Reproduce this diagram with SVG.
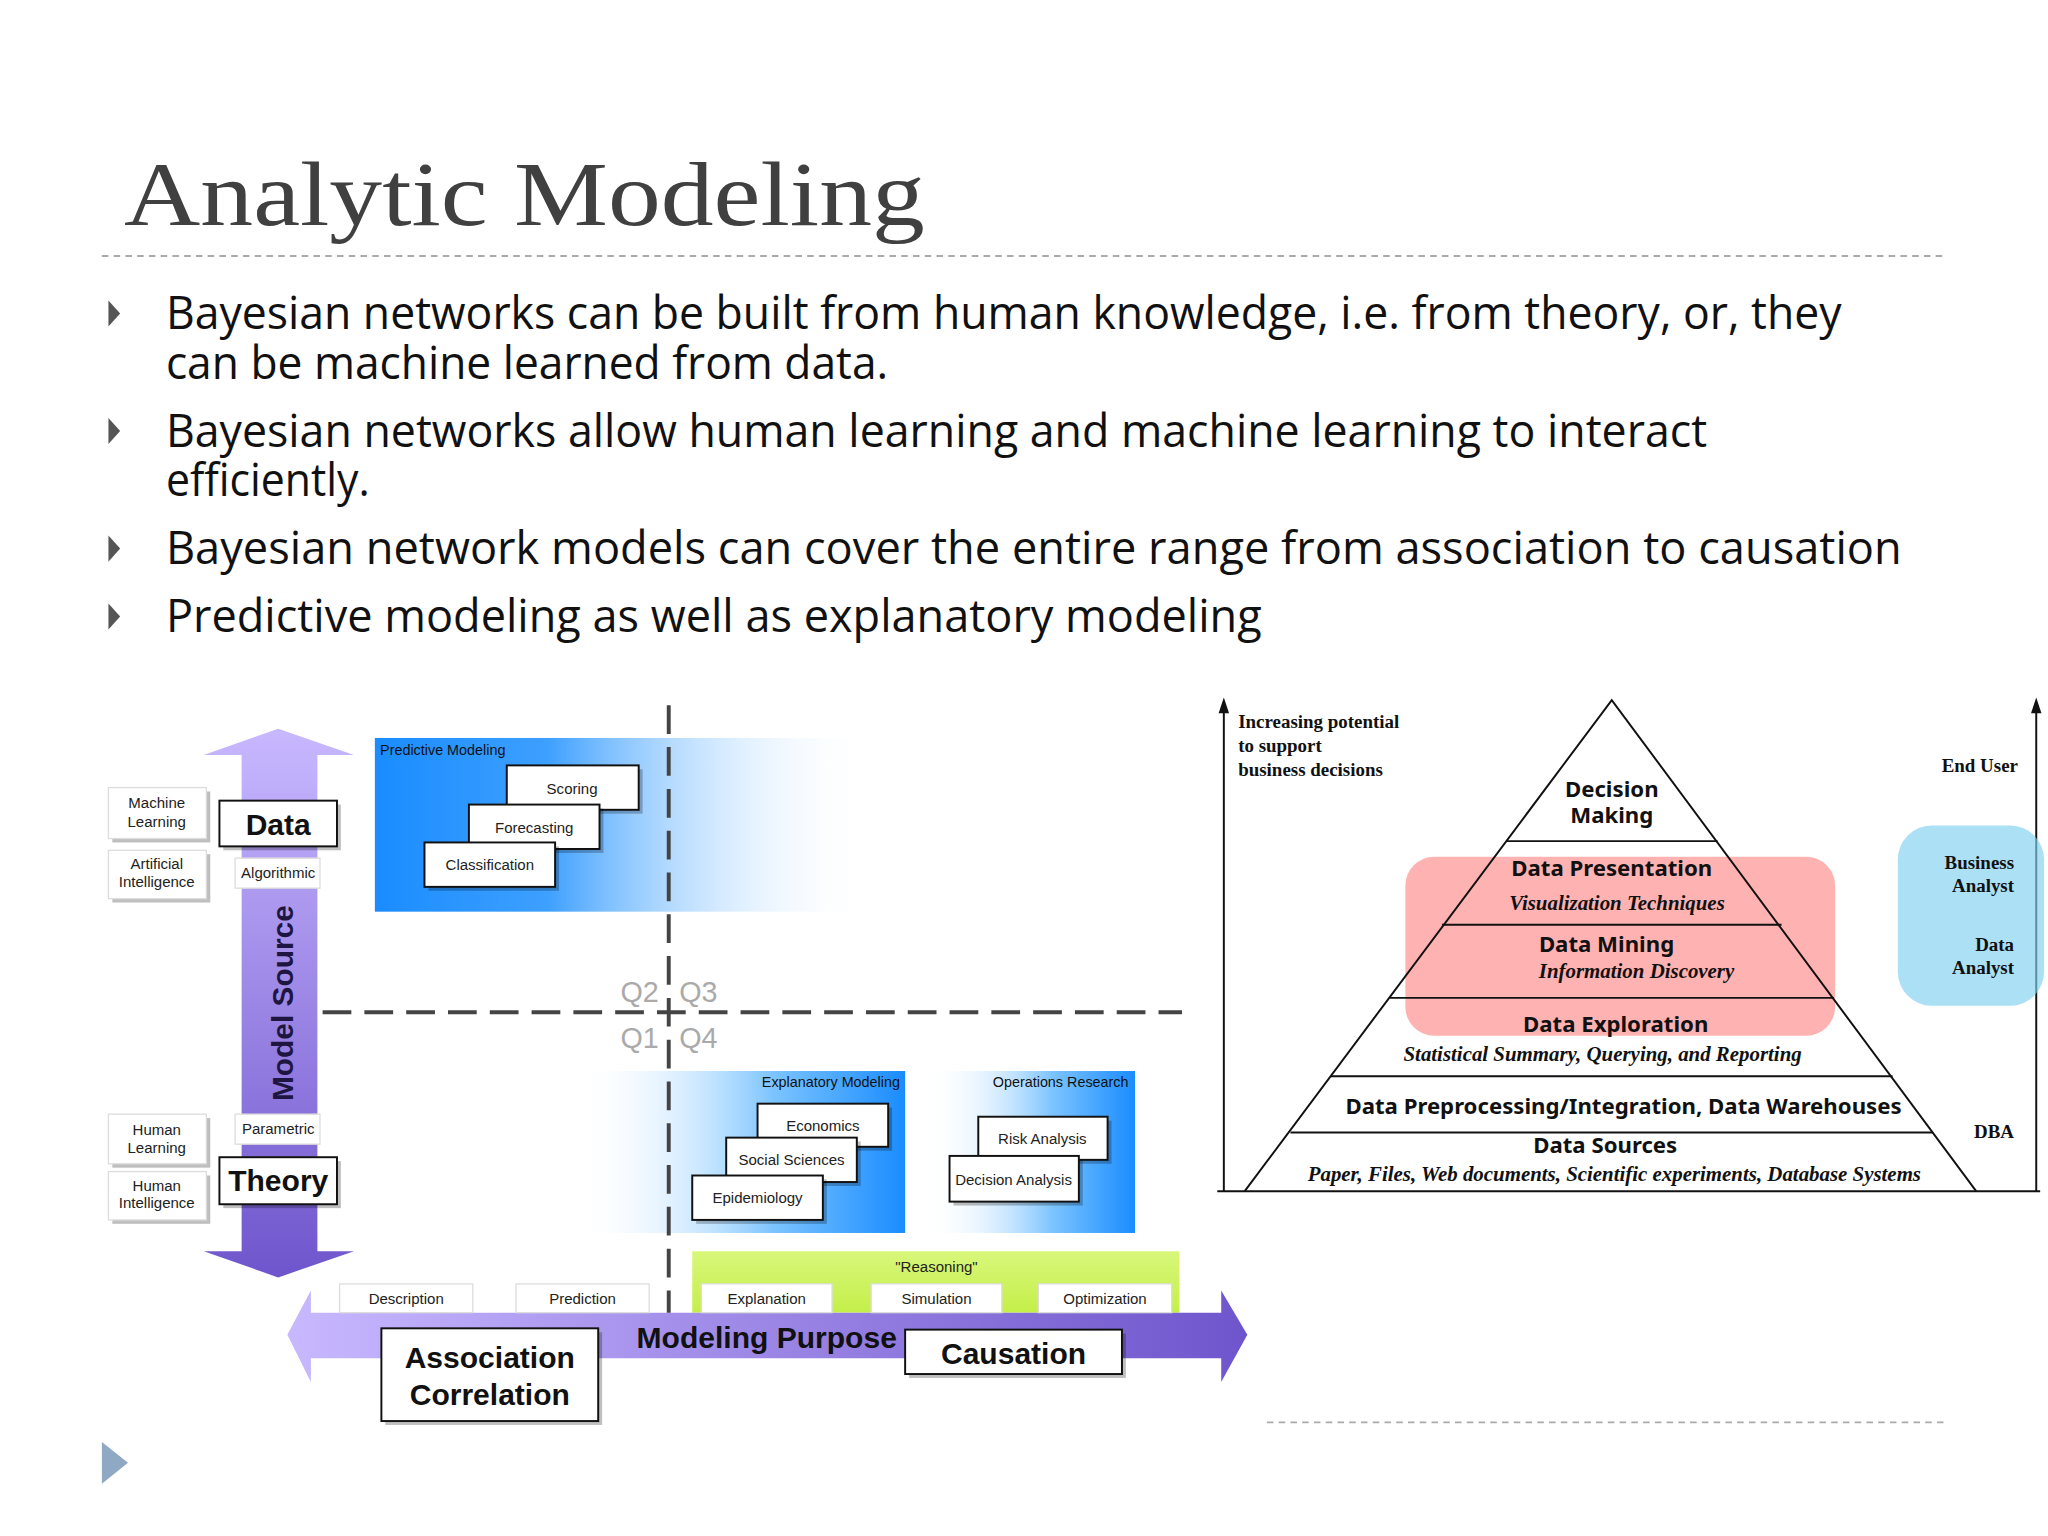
<svg xmlns="http://www.w3.org/2000/svg" width="2048" height="1536" viewBox="0 0 2048 1536">
<defs>
<style>
.b{fill:#fff;stroke:#111;stroke-width:1.5}
.sh{fill:#000;opacity:.25}
.s{font-family:"Liberation Sans",Arial,sans-serif;fill:#111}
.sm{font-family:"Liberation Sans",Arial,sans-serif;font-size:11.5px;fill:#222;text-anchor:middle}
.big{font-family:"Liberation Sans",Arial,sans-serif;font-size:23px;font-weight:bold;fill:#111;text-anchor:middle}
.bul{font-family:"Open Sans","Noto Sans",sans-serif;font-size:35px;fill:#111}
.q{font-family:"Liberation Sans",Arial,sans-serif;font-size:22px;fill:#aaa}
.pb{font-family:"Noto Sans","Liberation Sans",sans-serif;font-size:17px;font-weight:bold;fill:#111;text-anchor:middle}
.pi{font-family:"Liberation Serif",serif;font-size:16px;font-style:italic;font-weight:bold;fill:#111;text-anchor:middle}
.sr{font-family:"Liberation Serif",serif;font-size:14.5px;font-weight:bold;fill:#111}
.ln{stroke:#111;stroke-width:1.5;fill:none}
</style>
<linearGradient id="pv" x1="0" y1="0" x2="0" y2="1"><stop offset="0" stop-color="#c8b8ff"/><stop offset="1" stop-color="#6f55cc"/></linearGradient>
<linearGradient id="ph" x1="0" y1="0" x2="1" y2="0"><stop offset="0" stop-color="#c8b8ff"/><stop offset="1" stop-color="#6f55cc"/></linearGradient>
<linearGradient id="bl" x1="0" y1="0" x2="1" y2="0"><stop offset="0" stop-color="#1a8cff"/><stop offset="0.35" stop-color="#3ea0ff"/><stop offset="1" stop-color="#fff" stop-opacity="0"/></linearGradient>
<linearGradient id="br" x1="0" y1="0" x2="1" y2="0"><stop offset="0" stop-color="#fff" stop-opacity="0"/><stop offset="0.6" stop-color="#7cc4ff"/><stop offset="1" stop-color="#1a8cff"/></linearGradient>
<linearGradient id="gr" x1="0" y1="0" x2="0" y2="1"><stop offset="0" stop-color="#d8f77a"/><stop offset="1" stop-color="#c4ef4a"/></linearGradient>
</defs>
<rect width="2048" height="1536" fill="#fff"/>
<g transform="scale(1.30612)">
<text x="95" y="172" font-family="Liberation Serif,serif" font-size="70" fill="#404040" textLength="613" lengthAdjust="spacingAndGlyphs">Analytic Modeling</text>
<line x1="78" y1="196" x2="1490" y2="196" stroke="#aaa" stroke-width="1.5" stroke-dasharray="5 4"/>
<g fill="#555">
<path d="M83,230 L92,240 L83,250Z"/><path d="M83,320 L92,330 L83,340Z"/><path d="M83,410 L92,420 L83,430Z"/><path d="M83,462 L92,472 L83,482Z"/>
</g>
<path d="M78,1104 L98,1120 L78,1136Z" fill="#8fa8c4"/>
<text class="bul" x="127" y="252" textLength="1283" lengthAdjust="spacingAndGlyphs">Bayesian networks can be built from human knowledge, i.e. from theory, or, they</text>
<text class="bul" x="127" y="290" textLength="553" lengthAdjust="spacingAndGlyphs">can be machine learned from data.</text>
<text class="bul" x="127" y="342" textLength="1180" lengthAdjust="spacingAndGlyphs">Bayesian networks allow human learning and machine learning to interact</text>
<text class="bul" x="127" y="380" textLength="156" lengthAdjust="spacingAndGlyphs">efficiently.</text>
<text class="bul" x="127" y="432" textLength="1329" lengthAdjust="spacingAndGlyphs">Bayesian network models can cover the entire range from association to causation</text>
<text class="bul" x="127" y="484" textLength="839" lengthAdjust="spacingAndGlyphs">Predictive modeling as well as explanatory modeling</text>

<g id="predictive"><rect x="287" y="565" width="380" height="133" fill="url(#bl)"/><text class="s" x="291" y="578" font-size="11">Predictive Modeling</text></g>
<g id="explanatory"><rect x="440" y="820" width="253" height="124" fill="url(#br)"/><text class="s" x="689" y="832" font-size="11" text-anchor="end">Explanatory Modeling</text></g>
<g id="opsresearch"><rect x="710" y="820" width="159" height="124" fill="url(#br)"/><text class="s" x="864" y="832" font-size="11" text-anchor="end">Operations Research</text></g>
<g id="reasoning"><rect x="530" y="958" width="373" height="47" fill="url(#gr)"/><text class="sm" x="717" y="974">"Reasoning"</text></g>

<g id="connectors">
<path d="M213,558 L271,578 L243,578 L243,958 L271,958 L213,978 L156,958 L185,958 L185,578 L156,578Z" fill="url(#pv)"/>
<path d="M220,1022 L238,988 L238,1005 L935,1005 L935,988 L955,1022 L935,1058 L935,1040 L238,1040 L238,1058Z" fill="url(#ph)"/>
<line x1="512" y1="540" x2="512" y2="1005" stroke="#444" stroke-width="3" stroke-dasharray="22 10"/>
<line x1="247" y1="775" x2="905" y2="775" stroke="#444" stroke-width="3" stroke-dasharray="22 10"/>
<line x1="937" y1="912" x2="937" y2="545" class="ln"/>
<path d="M933,546 L937,534 L941,546Z" fill="#111"/>
<line x1="1559" y1="912" x2="1559" y2="545" class="ln"/>
<path d="M1555,546 L1559,534 L1563,546Z" fill="#111"/>
<line x1="932" y1="912" x2="1562" y2="912" class="ln"/>
</g>
<text x="224" y="768" transform="rotate(-90 224 768)" font-family="Liberation Sans,Arial,sans-serif" font-size="23" font-weight="bold" fill="#1e1640" text-anchor="middle" textLength="150" lengthAdjust="spacingAndGlyphs">Model Source</text>
<text class="q" x="475" y="767">Q2</text><text class="q" x="520" y="767">Q3</text>
<text class="q" x="475" y="802">Q1</text><text class="q" x="520" y="802">Q4</text>

<g id="n-ml"><rect class="sh" x="86" y="606" width="75" height="39"/><rect x="83" y="603" width="75" height="39" fill="#fff" stroke="#ddd"/><text class="sm" x="120" y="619">Machine</text><text class="sm" x="120" y="633">Learning</text></g>
<g id="n-ai"><rect class="sh" x="86" y="654" width="75" height="37"/><rect x="83" y="651" width="75" height="37" fill="#fff" stroke="#ddd"/><text class="sm" x="120" y="665">Artificial</text><text class="sm" x="120" y="679">Intelligence</text></g>
<g id="n-hl"><rect class="sh" x="86" y="856" width="75" height="38"/><rect x="83" y="853" width="75" height="38" fill="#fff" stroke="#ddd"/><text class="sm" x="120" y="869">Human</text><text class="sm" x="120" y="883">Learning</text></g>
<g id="n-hi"><rect class="sh" x="86" y="900" width="75" height="37"/><rect x="83" y="897" width="75" height="37" fill="#fff" stroke="#ddd"/><text class="sm" x="120" y="912">Human</text><text class="sm" x="120" y="925">Intelligence</text></g>
<g id="n-data"><rect class="sh" x="171" y="616" width="90" height="35"/><rect class="b" x="168" y="613" width="90" height="35"/><text class="big" x="213" y="639">Data</text></g>
<g id="n-alg"><rect x="180" y="657" width="65" height="23" fill="#fff" stroke="#ddd"/><text class="sm" x="213" y="672">Algorithmic</text></g>
<g id="n-par"><rect x="180" y="853" width="65" height="23" fill="#fff" stroke="#ddd"/><text class="sm" x="213" y="868">Parametric</text></g>
<g id="n-theory"><rect class="sh" x="171" y="889" width="90" height="36"/><rect class="b" x="168" y="886" width="90" height="36"/><text class="big" x="213" y="912">Theory</text></g>

<g id="n-scoring"><rect class="sh" x="391" y="589" width="101" height="34"/><rect class="b" x="388" y="586" width="101" height="34"/><text class="sm" x="438" y="608">Scoring</text></g>
<g id="n-forecasting"><rect class="sh" x="362" y="619" width="100" height="34"/><rect class="b" x="359" y="616" width="100" height="34"/><text class="sm" x="409" y="638">Forecasting</text></g>
<g id="n-classification"><rect class="sh" x="328" y="648" width="100" height="34"/><rect class="b" x="325" y="645" width="100" height="34"/><text class="sm" x="375" y="666">Classification</text></g>
<g id="n-economics"><rect class="sh" x="583" y="848" width="100" height="33"/><rect class="b" x="580" y="845" width="100" height="33"/><text class="sm" x="630" y="866">Economics</text></g>
<g id="n-social"><rect class="sh" x="559" y="874" width="100" height="34"/><rect class="b" x="556" y="871" width="100" height="34"/><text class="sm" x="606" y="892">Social Sciences</text></g>
<g id="n-epi"><rect class="sh" x="533" y="903" width="100" height="34"/><rect class="b" x="530" y="900" width="100" height="34"/><text class="sm" x="580" y="921">Epidemiology</text></g>
<g id="n-risk"><rect class="sh" x="752" y="858" width="99" height="33"/><rect class="b" x="749" y="855" width="99" height="33"/><text class="sm" x="798" y="876">Risk Analysis</text></g>
<g id="n-decision"><rect class="sh" x="730" y="888" width="99" height="35"/><rect class="b" x="727" y="885" width="99" height="35"/><text class="sm" x="776" y="907">Decision Analysis</text></g>

<g id="tabs">
<rect x="260" y="983" width="102" height="22" fill="#fff" stroke="#ddd"/><text class="sm" x="311" y="998">Description</text>
<rect x="395" y="983" width="102" height="22" fill="#fff" stroke="#ddd"/><text class="sm" x="446" y="998">Prediction</text>
<rect x="537" y="983" width="100" height="22" fill="#fff" stroke="#ddd"/><text class="sm" x="587" y="998">Explanation</text>
<rect x="667" y="983" width="100" height="22" fill="#fff" stroke="#ddd"/><text class="sm" x="717" y="998">Simulation</text>
<rect x="795" y="983" width="102" height="22" fill="#fff" stroke="#ddd"/><text class="sm" x="846" y="998">Optimization</text>
</g>
<text class="big" x="587" y="1032">Modeling Purpose</text>
<g id="n-assoc"><rect class="sh" x="295" y="1020" width="166" height="71"/><rect class="b" x="292" y="1017" width="166" height="71"/><text class="big" x="375" y="1047">Association</text><text class="big" x="375" y="1076">Correlation</text></g>
<g id="n-causation"><rect class="sh" x="696" y="1021" width="166" height="34"/><rect class="b" x="693" y="1018" width="166" height="34"/><text class="big" x="776" y="1044">Causation</text></g>

<rect x="1076" y="656" width="329" height="137" rx="22" fill="#ff7f7f" opacity=".6"/>
<rect x="1453" y="632" width="112" height="138" rx="26" fill="#7fd0f0" opacity=".65"/>
<g id="pyramid" class="ln">
<path d="M953,912 L1234,536 L1513,912"/>
<line x1="1153" y1="644" x2="1315" y2="644"/>
<line x1="1104" y1="708" x2="1364" y2="708"/>
<line x1="1064" y1="764" x2="1404" y2="764"/>
<line x1="1019" y1="824" x2="1449" y2="824"/>
<line x1="988" y1="867" x2="1480" y2="867"/>
</g>
<text class="sr" x="948" y="557">Increasing potential</text>
<text class="sr" x="948" y="576">to support</text>
<text class="sr" x="948" y="594">business decisions</text>
<text class="sr" x="1545" y="591" text-anchor="end">End User</text>
<text class="sr" x="1542" y="665" text-anchor="end">Business</text>
<text class="sr" x="1542" y="683" text-anchor="end">Analyst</text>
<text class="sr" x="1542" y="728" text-anchor="end">Data</text>
<text class="sr" x="1542" y="746" text-anchor="end">Analyst</text>
<text class="sr" x="1542" y="871" text-anchor="end">DBA</text>
<text class="pb" x="1234" y="610">Decision</text>
<text class="pb" x="1234" y="630">Making</text>
<text class="pb" x="1234" y="671">Data Presentation</text>
<text class="pi" x="1238" y="697">Visualization Techniques</text>
<text class="pb" x="1230" y="729">Data Mining</text>
<text class="pi" x="1253" y="749">Information Discovery</text>
<text class="pb" x="1237" y="790">Data Exploration</text>
<text class="pi" x="1227" y="812">Statistical Summary, Querying, and Reporting</text>
<text class="pb" x="1243" y="853">Data Preprocessing/Integration, Data Warehouses</text>
<text class="pb" x="1229" y="883">Data Sources</text>
<text class="pi" x="1236" y="904" font-size="15">Paper, Files, Web documents, Scientific experiments, Database Systems</text>
<line x1="970" y1="1089" x2="1490" y2="1089" stroke="#aaa" stroke-width="1.2" stroke-dasharray="5 4"/>
</g>
</svg>
